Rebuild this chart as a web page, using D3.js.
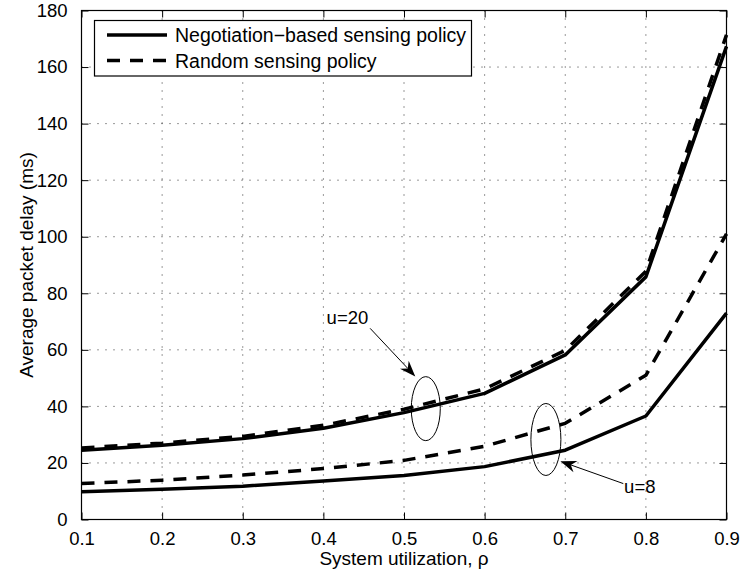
<!DOCTYPE html>
<html>
<head>
<meta charset="utf-8">
<script src="https://cdn.jsdelivr.net/npm/d3@7/dist/d3.min.js"></script>
<style>
  html, body { margin: 0; padding: 0; background: #fff; }
  svg { display: block; font-family: "Liberation Sans", Arial, Helvetica, sans-serif; }
</style>
</head>
<body>
<svg id="chart" width="740" height="573"></svg>
<script>
// System utilization values on the x axis
const rho = [0.1, 0.2, 0.3, 0.4, 0.5, 0.6, 0.7, 0.8, 0.9];

// Average packet delay (ms) per policy and number of users u
const negotiationU20 = [24.5, 26.3, 28.6, 32.3, 37.8, 44.6, 58.2, 85.8, 167.3];
const randomU20      = [25.3, 27.0, 29.4, 33.3, 39.0, 46.2, 59.8, 87.8, 171.4];
const negotiationU8  = [9.8, 10.7, 11.8, 13.6, 15.6, 18.7, 24.5, 36.6, 73.0];
const randomU8       = [12.7, 13.9, 15.7, 18.0, 20.9, 25.9, 34.0, 51.0, 101.0];

// Tick values
const xTicks = [0.1, 0.2, 0.3, 0.4, 0.5, 0.6, 0.7, 0.8, 0.9];
const yTicks = [0, 20, 40, 60, 80, 100, 120, 140, 160, 180];

const legendLabels = ["Negotiation\u2212based sensing policy", "Random sensing policy"];

const svg = d3.select("#chart");
const plotLeft = 81.5, plotRight = 726.5, plotTop = 10.5, plotBottom = 519.5;

const x = d3.scaleLinear().domain([0.1, 0.9]).range([plotLeft, plotRight]);
const y = d3.scaleLinear().domain([0, 180]).range([plotBottom, plotTop]);

// Dotted grid
const grid = svg.append("g").attr("stroke", "#333").attr("stroke-width", 1)
  .attr("stroke-dasharray", "1,7");
grid.selectAll(".gx").data(xTicks.slice(1, -1)).join("line")
  .attr("x1", d => x(d)).attr("x2", d => x(d))
  .attr("y1", plotTop).attr("y2", plotBottom);
grid.selectAll(".gy").data(yTicks.slice(1, -1)).join("line")
  .attr("x1", plotLeft).attr("x2", plotRight)
  .attr("y1", d => y(d)).attr("y2", d => y(d));

// Axes with inward ticks on all four sides
const tickLen = 7;
const xAxisB = d3.axisBottom(x).tickValues(xTicks).tickSize(-tickLen).tickPadding(12).tickFormat(d3.format(".1f"));
const xAxisT = d3.axisTop(x).tickValues(xTicks).tickSize(-tickLen).tickFormat("");
const yAxisL = d3.axisLeft(y).tickValues(yTicks).tickSize(-tickLen).tickPadding(14).tickFormat(d3.format("d"));
const yAxisR = d3.axisRight(y).tickValues(yTicks).tickSize(-tickLen).tickFormat("");

function styleAxis(g) {
  g.select(".domain").remove();
  g.selectAll(".tick line").attr("stroke", "#000").attr("stroke-width", 1);
  g.selectAll(".tick text").attr("fill", "#000").attr("font-size", 18.5)
    .attr("font-family", "'Liberation Sans', Arial, sans-serif");
}
svg.append("g").attr("transform", `translate(0,${plotBottom})`).call(xAxisB).call(styleAxis);
svg.append("g").attr("transform", `translate(0,${plotTop})`).call(xAxisT).call(styleAxis);
svg.append("g").attr("transform", `translate(${plotLeft},0)`).call(yAxisL).call(styleAxis);
svg.append("g").attr("transform", `translate(${plotRight},0)`).call(yAxisR).call(styleAxis);

// Curves
const line = d3.line().x((d, i) => x(rho[i])).y(d => y(d));
const curves = [
  { values: negotiationU8, dash: null },
  { values: randomU8, dash: "13,10" },
  { values: negotiationU20, dash: null },
  { values: randomU20, dash: "13,10" }
];
svg.append("g").selectAll("path").data(curves).join("path")
  .attr("d", d => line(d.values))
  .attr("fill", "none").attr("stroke", "#000").attr("stroke-width", 3.5)
  .attr("stroke-linejoin", "round")
  .attr("stroke-dasharray", d => d.dash);

// Plot frame
svg.append("rect").attr("x", plotLeft).attr("y", plotTop)
  .attr("width", plotRight - plotLeft).attr("height", plotBottom - plotTop)
  .attr("fill", "none").attr("stroke", "#000").attr("stroke-width", 1.2);

// Axis titles
svg.append("text").attr("x", (plotLeft + plotRight) / 2).attr("y", 565)
  .attr("text-anchor", "middle").attr("font-size", 19)
  .text("System utilization, \u03C1");
svg.append("text").attr("transform", `translate(33,${(plotTop + plotBottom) / 2}) rotate(-90)`)
  .attr("text-anchor", "middle").attr("font-size", 19)
  .text("Average packet delay (ms)");

// Legend
const legend = svg.append("g");
legend.append("rect").attr("x", 94.5).attr("y", 20.5).attr("width", 377).attr("height", 55.5)
  .attr("fill", "#fff").attr("stroke", "#000").attr("stroke-width", 1.2);
const legendDash = [null, "13,10"];
legendLabels.forEach((lab, i) => {
  const ly = 35 + i * 25.5;
  legend.append("line").attr("x1", 107).attr("x2", 167).attr("y1", ly).attr("y2", ly)
    .attr("stroke", "#000").attr("stroke-width", 3.5).attr("stroke-dasharray", legendDash[i]);
  legend.append("text").attr("x", 175).attr("y", ly + 7).attr("font-size", 19.5).text(lab);
});

// Annotations: ellipses around curve pairs, arrows and labels
const ann = svg.append("g").attr("stroke", "#000").attr("fill", "none");
const ellipses = [
  { cx: 0.527, cy: 39.2, rx: 14.5, ry: 32 },
  { cx: 0.676, cy: 28.3, rx: 15, ry: 36 }
];
ann.selectAll("ellipse").data(ellipses).join("ellipse")
  .attr("cx", d => x(d.cx)).attr("cy", d => y(d.cy))
  .attr("rx", d => d.rx).attr("ry", d => d.ry).attr("stroke-width", 1);

const arrows = [
  { x0: 0.458, y0: 67.6, x1: 0.514, y1: 50.6 },
  { x0: 0.772, y0: 12.7, x1: 0.694, y1: 20.6 }
];
arrows.forEach(a => {
  const X0 = x(a.x0), Y0 = y(a.y0), X1 = x(a.x1), Y1 = y(a.y1);
  const ang = Math.atan2(Y1 - Y0, X1 - X0);
  const L = 16, W = 6, N = 11;
  const ux = Math.cos(ang), uy = Math.sin(ang);
  const px = -uy, py = ux;
  ann.append("line").attr("x1", X0).attr("y1", Y0)
    .attr("x2", X1 - ux * N).attr("y2", Y1 - uy * N).attr("stroke-width", 1);
  const head = [
    [X1, Y1],
    [X1 - ux * L + px * W, Y1 - uy * L + py * W],
    [X1 - ux * N, Y1 - uy * N],
    [X1 - ux * L - px * W, Y1 - uy * L - py * W]
  ];
  ann.append("path").attr("d", "M" + head.map(p => p.join(",")).join("L") + "Z")
    .attr("fill", "#000").attr("stroke", "none");
});

const labels = [
  { x: 0.404, y: 69.0, text: "u=20" },
  { x: 0.773, y: 9.2, text: "u=8" }
];
svg.append("g").selectAll("text").data(labels).join("text")
  .attr("x", d => x(d.x)).attr("y", d => y(d.y))
  .attr("font-size", 18.5).text(d => d.text);
</script>
</body>
</html>
